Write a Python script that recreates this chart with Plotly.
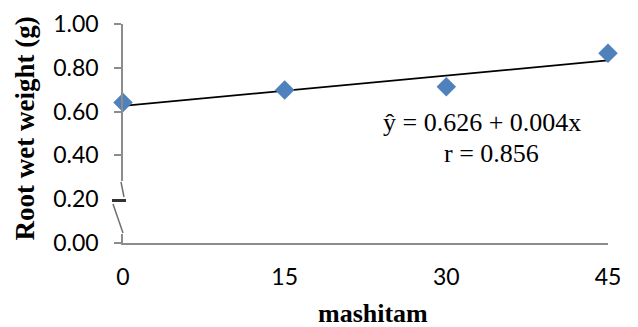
import numpy as np
import plotly.graph_objects as go

# data
mashitam = [0, 15, 30, 45]
root_wet_weight = [0.641, 0.699, 0.714, 0.866]
y_ticks = [0.0, 0.2, 0.4, 0.6, 0.8, 1.0]
x_ticks = [0, 15, 30, 45]
eq_text = "ŷ = 0.626 + 0.004x"
r_text = "r = 0.856"

OFF = 8  # page body margin
W, H = 638 - OFF, 327 - OFF
# plot area in page pixels: x 123..608, y 24..243
L, T = 123 - OFF, 24 - OFF
R = W - (608 - OFF)
B = H - (243 - OFF)
PW, PH = W - L - R, H - T - B


def px(x):
    return (x - OFF - L) / PW


def py(y):
    return (H - B - (y - OFF)) / PH


slope, intercept = np.polyfit(mashitam, root_wet_weight, 1)
line_x = [min(mashitam), max(mashitam)]
line_y = [intercept + slope * v for v in line_x]

fig = go.Figure()
fig.add_trace(go.Scatter(x=line_x, y=line_y, mode="lines",
                         line=dict(color="black", width=1.8),
                         hoverinfo="skip", cliponaxis=False))
fig.add_trace(go.Scatter(x=mashitam, y=root_wet_weight, mode="markers",
                         marker=dict(symbol="diamond", size=15, color="#4F81BD",
                                     line=dict(width=0)),
                         cliponaxis=False))

axis_col = "#8C8C8C"
fig.update_xaxes(range=[0, 45], tickvals=x_ticks, showgrid=False, zeroline=False,
                 showline=True, linecolor=axis_col, linewidth=1.5, ticks="",
                 ticklabelstandoff=13, automargin=False,
                 tickfont=dict(family="Lato", size=23, color="black"))
fig.update_yaxes(range=[0, 1.0], tickvals=y_ticks, tickformat=".2f", showgrid=False,
                 zeroline=False, showline=True, linecolor=axis_col, linewidth=1.5,
                 ticks="outside", ticklen=7, tickwidth=1.5, tickcolor=axis_col,
                 ticklabelstandoff=11, automargin=False,
                 tickfont=dict(family="Lato", size=23, color="black"))

serif = "Liberation Serif"
anns = [
    dict(x=px(481.5), y=py(122), text=eq_text, font=dict(family=serif, size=26, color="black")),
    dict(x=px(491.5), y=py(153), text=r_text, font=dict(family=serif, size=26, color="black")),
    dict(x=px(373), y=py(313), text="<b>mashitam</b>", font=dict(family=serif, size=26, color="black")),
    dict(x=px(25), y=py(128.5), text="<b>Root wet weight (g)</b>", textangle=-90,
         font=dict(family=serif, size=27, color="black")),
]
for a in anns:
    fig.add_annotation(xref="paper", yref="paper", showarrow=False,
                       xanchor="center", yanchor="middle", **a)

# axis break decoration
fig.add_shape(type="rect", xref="paper", yref="paper", x0=px(110), x1=px(131),
              y0=py(181), y1=py(234), fillcolor="white", line=dict(width=0), layer="above")
fig.add_shape(type="line", xref="paper", yref="paper", x0=px(121), y0=py(182),
              x1=px(124), y1=py(197), line=dict(color="#707070", width=1.5), layer="above")
fig.add_shape(type="line", xref="paper", yref="paper", x0=px(112), y0=py(200.5),
              x1=px(126), y1=py(200.5), line=dict(color="#333333", width=3), layer="above")
fig.add_shape(type="line", xref="paper", yref="paper", x0=px(113), y0=py(204),
              x1=px(123), y1=py(233), line=dict(color="#707070", width=1.5), layer="above")

fig.update_layout(width=W, height=H, margin=dict(l=L, r=R, t=T, b=B),
                  paper_bgcolor="white", plot_bgcolor="white", showlegend=False)

fig.write_html("out.html")
